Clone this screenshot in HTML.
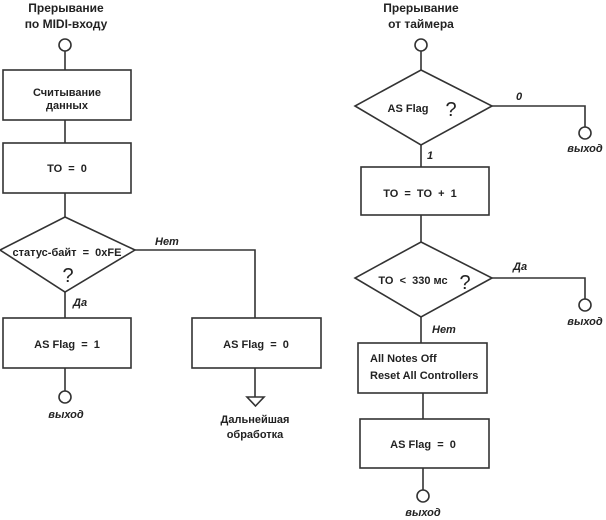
<!DOCTYPE html>
<html><head><meta charset="utf-8"><style>
html,body{margin:0;padding:0;background:#fff;}
svg{display:block;}
text{font-family:"Liberation Sans",sans-serif;font-weight:bold;font-size:11px;fill:#222;white-space:pre;}
.i{font-style:italic;}
.q{font-size:20px;font-weight:normal;}
.t{font-size:12px;}
</style></head><body>
<svg width="606" height="520" viewBox="0 0 606 520" xml:space="preserve">
<g stroke="#333" stroke-width="1.6" fill="none">
<circle cx="65" cy="45" r="6" fill="#fff"/>
<line x1="65" y1="51" x2="65" y2="70"/>
<rect x="3" y="70" width="128" height="50"/>
<line x1="65" y1="120" x2="65" y2="143"/>
<rect x="3" y="143" width="128" height="50"/>
<line x1="65" y1="193" x2="65" y2="217"/>
<polygon points="65,217 135,250 65,292 0,250"/>
<polyline points="135,250 255,250 255,318"/>
<line x1="65" y1="292" x2="65" y2="318"/>
<rect x="3" y="318" width="128" height="50"/>
<line x1="65" y1="368" x2="65" y2="391"/>
<circle cx="65" cy="397" r="6" fill="#fff"/>
<rect x="192" y="318" width="129" height="50"/>
<line x1="255" y1="368" x2="255" y2="397"/>
<polygon points="247,397 264,397 255.5,406"/>
<circle cx="421" cy="45" r="6" fill="#fff"/>
<line x1="421" y1="51" x2="421" y2="70"/>
<polygon points="421,70 492,106 421,145 355,106"/>
<polyline points="492,106 585,106 585,127"/>
<circle cx="585" cy="133" r="6" fill="#fff"/>
<line x1="421" y1="145" x2="421" y2="167"/>
<rect x="361" y="167" width="128" height="48"/>
<line x1="421" y1="215" x2="421" y2="242"/>
<polygon points="421,242 492,278 421,317 355,278"/>
<polyline points="492,278 585,278 585,299"/>
<circle cx="585" cy="305" r="6" fill="#fff"/>
<line x1="421" y1="317" x2="421" y2="343"/>
<rect x="358" y="343" width="129" height="50"/>
<line x1="423" y1="393" x2="423" y2="419"/>
<rect x="360" y="419" width="129" height="49"/>
<line x1="423" y1="468" x2="423" y2="490"/>
<circle cx="423" cy="496" r="6" fill="#fff"/>
</g>
<g text-anchor="middle">
<text x="66" y="12" class="t">Прерывание</text>
<text x="66" y="28" class="t">по MIDI-входу</text>
<text x="67" y="96">Считывание</text>
<text x="67" y="109">данных</text>
<text x="67" y="172">TO  =  0</text>
<text x="67" y="256">статус-байт  =  0xFE</text>
<text x="68" y="282" class="q">?</text>
<text x="67" y="348">AS Flag  =  1</text>
<text x="66" y="418" class="i">выход</text>
<text x="256" y="348">AS Flag  =  0</text>
<text x="255" y="423">Дальнейшая</text>
<text x="255" y="438">обработка</text>
<text x="421" y="12" class="t">Прерывание</text>
<text x="421" y="28" class="t">от таймера</text>
<text x="408" y="112">AS Flag</text>
<text x="451" y="116" class="q">?</text>
<text x="420" y="197">TO  =  TO  +  1</text>
<text x="413" y="284">TO  &lt;  330 мс</text>
<text x="465" y="289" class="q">?</text>
<text x="423" y="448">AS Flag  =  0</text>
<text x="585" y="152" class="i">выход</text>
<text x="585" y="325" class="i">выход</text>
<text x="423" y="516" class="i">выход</text>
</g>
<text x="370" y="362">All Notes Off</text>
<text x="370" y="379">Reset All Controllers</text>
<text x="155" y="245" class="i">Нет</text>
<text x="73" y="306" class="i">Да</text>
<text x="516" y="100" class="i">0</text>
<text x="427" y="159" class="i">1</text>
<text x="513" y="270" class="i">Да</text>
<text x="432" y="333" class="i">Нет</text>
</svg>
</body></html>
